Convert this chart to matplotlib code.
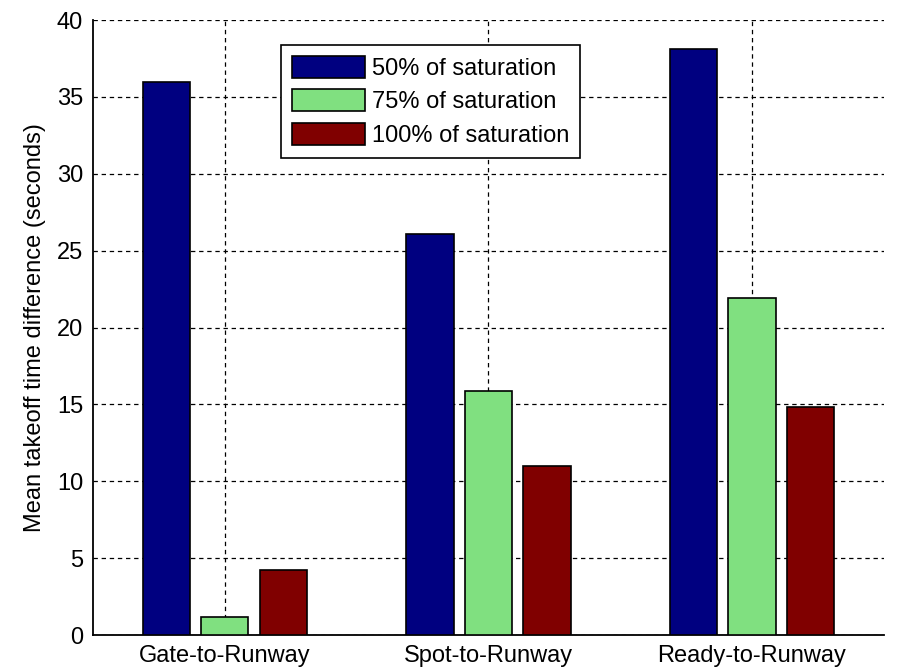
import matplotlib.pyplot as plt
import numpy as np

plt.rcParams['font.family'] = ['Liberation Sans', 'DejaVu Sans']

categories = ['Gate-to-Runway', 'Spot-to-Runway', 'Ready-to-Runway']
series = ['50% of saturation', '75% of saturation', '100% of saturation']
sat50 = [36.0, 26.1, 38.1]
sat75 = [1.15, 15.85, 21.9]
sat100 = [4.2, 11.0, 14.8]
colors = ['#000080', '#80E080', '#800000']

fig = plt.figure(figsize=(8.99, 6.68), dpi=100)
ax = fig.add_axes([0.1034, 0.0494, 0.8796, 0.9206])

x = np.arange(1, len(categories) + 1)
offset = 0.222
width = 0.18
for i, (vals, lab) in enumerate(zip([sat50, sat75, sat100], series)):
    ax.bar(x + (i - 1) * offset, vals, width, color=colors[i], edgecolor='black',
           linewidth=1.2, label=lab, zorder=3)

ax.set_xlim(0.5, 3.5)
ax.set_ylim(0, 40)
ax.set_xticks(x)
ax.set_xticklabels(categories)
ax.set_yticks(np.arange(0, 41, 5))
ax.tick_params(direction='in', length=0, labelsize=17, pad=7)
ax.set_ylabel('Mean takeoff time difference (seconds)', fontsize=17, labelpad=8)

ax.grid(True, color='black', linestyle=(0, (3.5, 3)), linewidth=0.9, zorder=1)
ax.set_axisbelow(True)
for s in ['top', 'right']:
    ax.spines[s].set_visible(False)
for s in ['left', 'bottom']:
    ax.spines[s].set_linewidth(1.3)

leg = ax.legend(loc='upper left', bbox_to_anchor=(0.238, 0.959), borderaxespad=0,
                fontsize=17, fancybox=False, edgecolor='black', framealpha=1,
                handlelength=3.1, handleheight=1.06, labelspacing=0.4,
                handletextpad=0.3, borderpad=0.45)
leg.get_frame().set_linewidth(1.2)

fig.savefig('out.png', dpi=100)
